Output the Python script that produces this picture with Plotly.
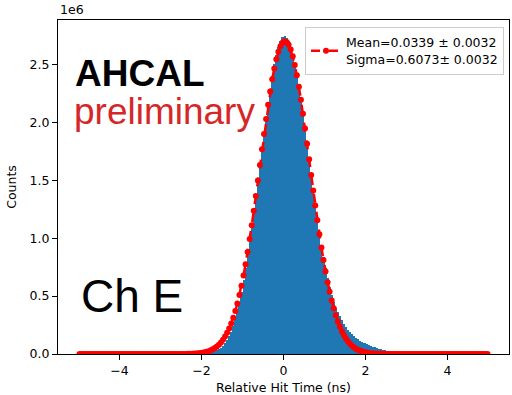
import numpy as np
import plotly.graph_objects as go

# ---------------- data (counts in units of 1e6) ----------------
bin_low = -5.0
bin_width = 0.05
n_bins = 200

# histogram contents, bins centred from -4.975 to 4.975
hist_left_zeros = [0.0] * 50          # -4.975 ... -2.525
hist_core = [
    0.0001, 0.00015, 0.0002, 0.0003, 0.00045, 0.00064, 0.0009, 0.0013, 0.0018, 0.0025,
    0.0035, 0.0047, 0.0065, 0.0089, 0.0124, 0.0166, 0.0226, 0.031, 0.042, 0.055,
    0.071, 0.093, 0.121, 0.154, 0.193, 0.242, 0.300, 0.366, 0.448, 0.536,
    0.637, 0.744, 0.862, 0.982, 1.111, 1.24, 1.37, 1.50, 1.64, 1.77,
    1.91, 2.04, 2.17, 2.29, 2.40, 2.50, 2.58, 2.65, 2.70, 2.735,
    2.746, 2.73, 2.70, 2.65, 2.585, 2.51, 2.42, 2.32, 2.205, 2.085,
    1.955, 1.825, 1.69, 1.555, 1.42, 1.29, 1.165, 1.05, 0.94, 0.835,
    0.74, 0.655, 0.578, 0.51, 0.45, 0.398, 0.36, 0.325, 0.29, 0.26,
    0.235, 0.21, 0.19, 0.172, 0.156, 0.141, 0.128, 0.116, 0.105, 0.095,
    0.086, 0.078, 0.070, 0.063, 0.057, 0.051, 0.046, 0.041, 0.037, 0.033,
    0.029, 0.026, 0.023, 0.020, 0.017, 0.015, 0.013, 0.011, 0.0095, 0.008,
    0.0068, 0.0057, 0.0048, 0.004, 0.0033, 0.0027, 0.0022, 0.0018, 0.0015, 0.0012,
    0.001, 0.0008, 0.0006, 0.0005, 0.0004, 0.0003,
]
hist_right_zeros = [0.0] * 24         # 3.825 ... 4.975
hist_counts = hist_left_zeros + hist_core + hist_right_zeros

# Gaussian fit evaluated at the bin centres
fit_left_zeros = [0.0] * 50
fit_core = [
    0.00053, 0.00074, 0.00103, 0.00142, 0.00195, 0.00265, 0.00359, 0.00484, 0.00646, 0.00857,
    0.0113, 0.0148, 0.0192, 0.0248, 0.0318, 0.0405, 0.0513, 0.0645, 0.0805, 0.0998,
    0.123, 0.150, 0.183, 0.220, 0.264, 0.314, 0.371, 0.436, 0.509, 0.589,
    0.678, 0.775, 0.880, 0.992, 1.111, 1.236, 1.365, 1.498, 1.632, 1.767,
    1.899, 2.029, 2.152, 2.267, 2.372, 2.465, 2.544, 2.609, 2.657, 2.687,
    2.700, 2.694, 2.670, 2.628, 2.570, 2.495, 2.407, 2.306, 2.194, 2.074,
    1.947, 1.815, 1.681, 1.546, 1.412, 1.282, 1.155, 1.034, 0.919, 0.812,
    0.712, 0.620, 0.537, 0.461, 0.394, 0.334, 0.281, 0.235, 0.195, 0.161,
    0.132, 0.108, 0.0870, 0.0699, 0.0558, 0.0442, 0.0348, 0.0272, 0.0211, 0.0163,
    0.0124, 0.00947, 0.00716, 0.00537, 0.00400, 0.00296, 0.00218, 0.00159, 0.00115, 0.00083,
    0.00060, 0.00042,
]
fit_right_zeros = [0.0] * 48
fit_counts = fit_left_zeros + fit_core + fit_right_zeros

legend_label = "Mean=0.0339 ± 0.0032<br>Sigma=0.6073± 0.0032"
x_ticks = [-4, -2, 0, 2, 4]
y_ticks = [0.0, 0.5, 1.0, 1.5, 2.0, 2.5]

assert len(hist_counts) == n_bins and len(fit_counts) == n_bins
bin_centres = bin_low + bin_width * (np.arange(n_bins) + 0.5)

# ---------------- figure ----------------
W, H = 512, 395
ML, MR, MT, MB = 58, 2, 20, 38
pw, ph = W - ML - MR, H - MT - MB

def px(x):
    return (x - ML) / pw

def py(y):
    return (H - MB - y) / ph

tick_font = dict(family="DejaVu Sans", size=12.5, color="black")

fig = go.Figure()
fig.add_trace(go.Bar(
    x=bin_centres, y=hist_counts, width=bin_width,
    marker=dict(color="#1f77b4", line=dict(width=0)),
    showlegend=False,
))
fig.add_trace(go.Scatter(
    x=bin_centres, y=fit_counts, mode="lines+markers",
    line=dict(color="red", width=2.5, dash="dash"),
    marker=dict(color="red", size=6),
    name=legend_label,
))

ymax = max(hist_counts) * 1.05
fig.update_layout(
    width=W, height=H,
    margin=dict(l=ML, r=MR, t=MT, b=MB, pad=0),
    paper_bgcolor="white", plot_bgcolor="white",
    bargap=0,
    font=tick_font,
    showlegend=True,
    legend=dict(
        x=px(505), y=py(27), xanchor="right", yanchor="top",
        bgcolor="white", bordercolor="#cccccc", borderwidth=1,
        font=dict(family="DejaVu Sans", size=12.5, color="black"),
        itemwidth=30,
    ),
    xaxis=dict(
        range=[-5.5, 5.5], tickvals=x_ticks, ticks="outside", ticklen=5,
        tickcolor="black", showgrid=False, zeroline=False,
        showline=True, linecolor="black", linewidth=1, mirror=True,
        title=dict(text="Relative Hit Time (ns)", font=tick_font, standoff=6),
        tickfont=tick_font,
    ),
    yaxis=dict(
        range=[0, ymax], tickvals=y_ticks, tickformat=".1f", ticks="outside",
        ticklen=5, tickcolor="black", showgrid=False, zeroline=False,
        showline=True, linecolor="black", linewidth=1, mirror=True,
        title=dict(text="Counts", font=tick_font, standoff=10),
        tickfont=tick_font,
    ),
)

ann_font = "Liberation Sans, Arial, sans-serif"
fig.add_annotation(x=px(73), y=py(73.5), xref="paper", yref="paper",
                   text="<b>AHCAL</b>", showarrow=False, xanchor="left", yanchor="middle",
                   font=dict(family=ann_font, size=37, color="black"))
fig.add_annotation(x=px(72), y=py(112), xref="paper", yref="paper",
                   text="preliminary", showarrow=False, xanchor="left", yanchor="middle",
                   font=dict(family=ann_font, size=37, color="#d62728"))
fig.add_annotation(x=px(79), y=py(298.5), xref="paper", yref="paper",
                   text="Ch E", showarrow=False, xanchor="left", yanchor="middle",
                   font=dict(family=ann_font, size=46, color="black"))
fig.add_annotation(x=0, y=1, xref="paper", yref="paper", yshift=1,
                   text="1e6", showarrow=False, xanchor="left", yanchor="bottom",
                   font=tick_font)

fig.write_html("out.html")
